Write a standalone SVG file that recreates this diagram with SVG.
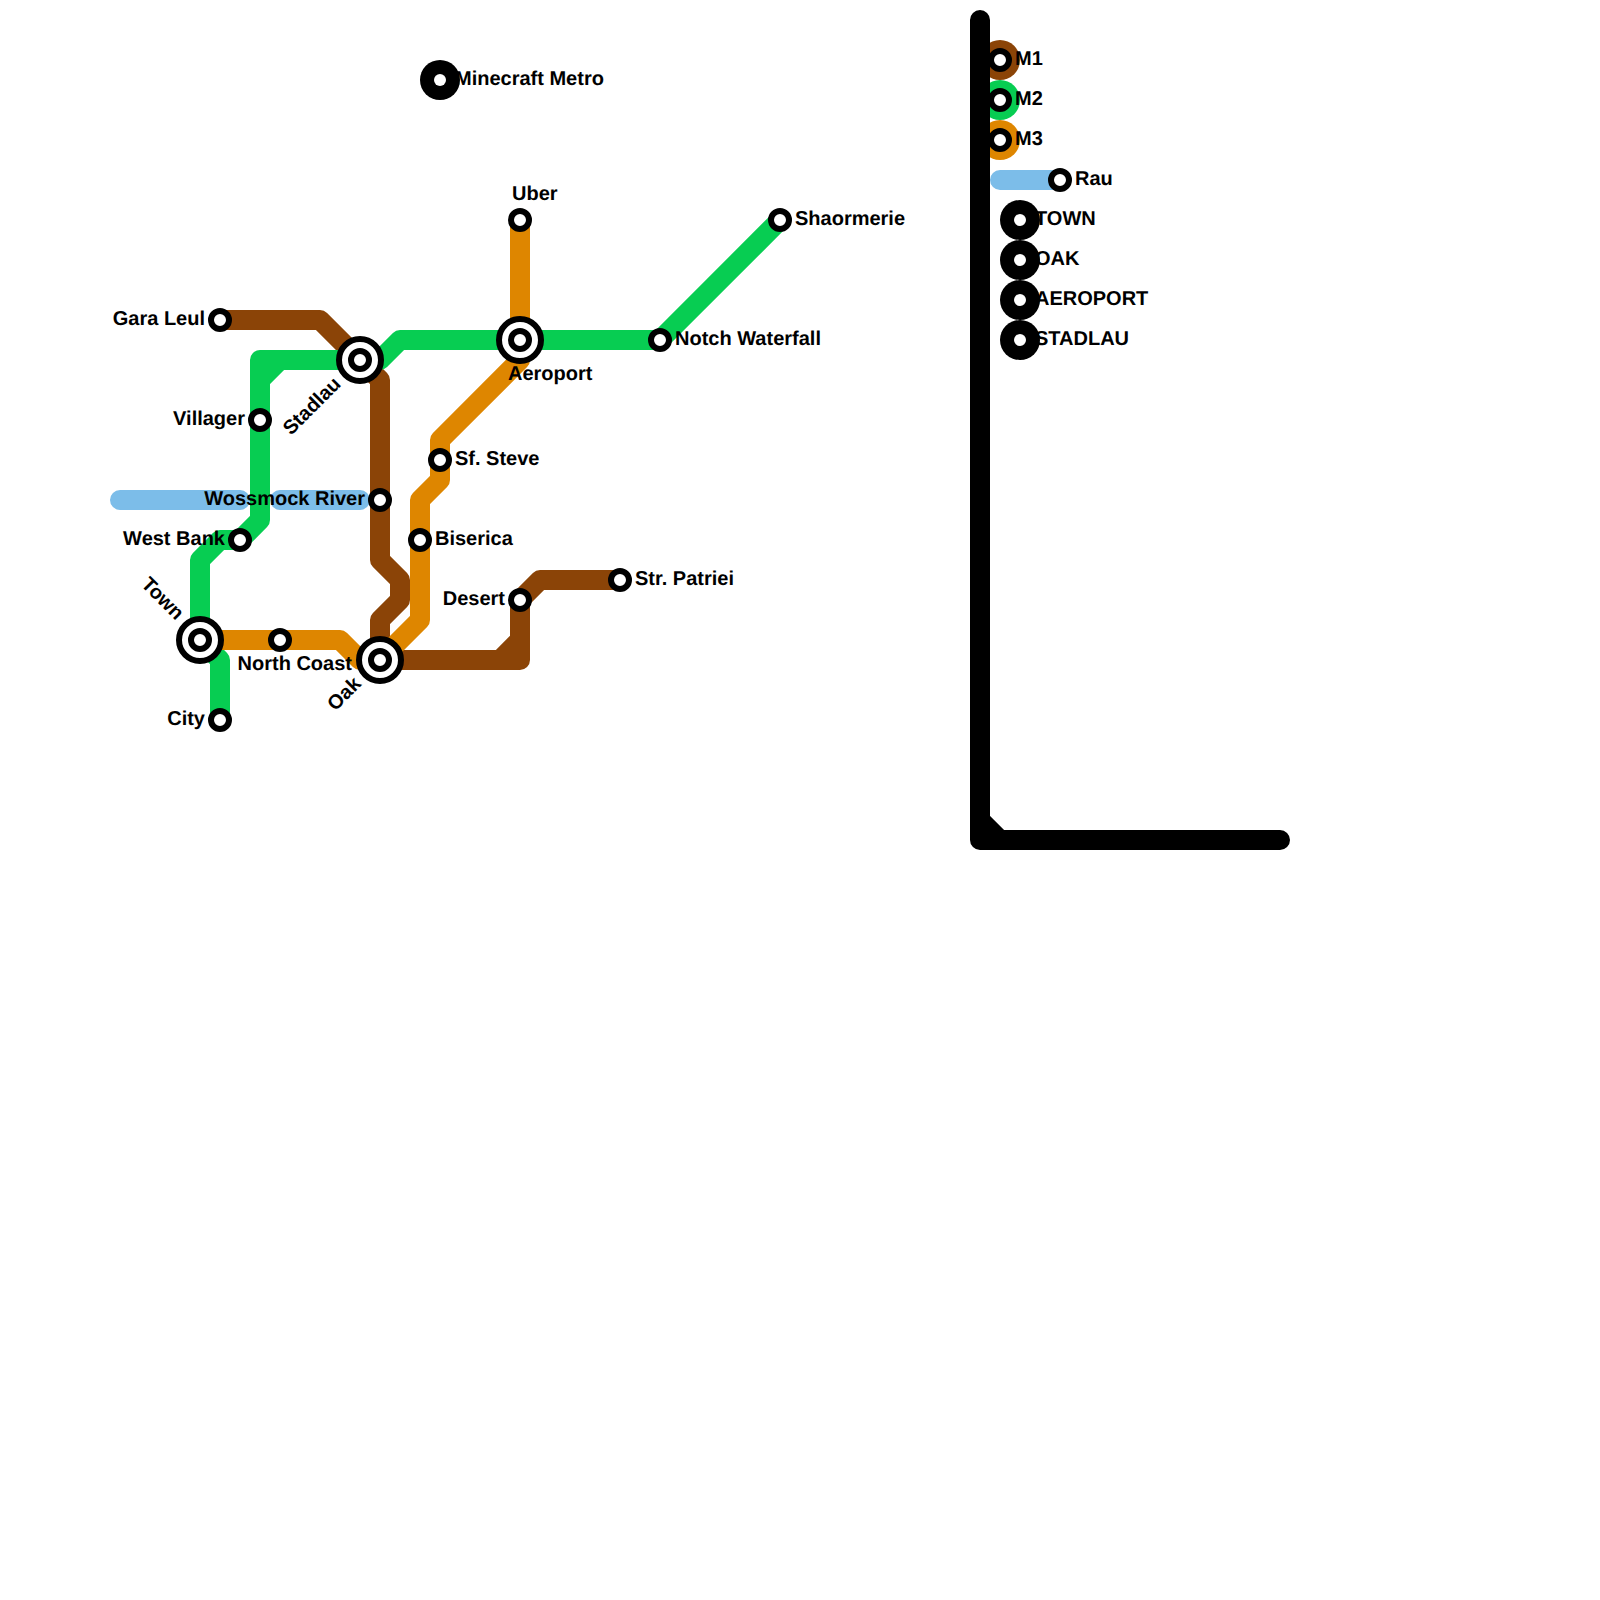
<svg xmlns="http://www.w3.org/2000/svg" width="1600" height="1600" viewBox="0 0 1600 1600">
<defs>
<style>
.l{fill:none;stroke-width:20;stroke-linecap:round;stroke-linejoin:round}
.brown{stroke:#8b4407}.green{stroke:#07cd52}.orange{stroke:#de8600}.blue{stroke:#7cbde9}.black{stroke:#000}
.s{fill:#fff;stroke:#000;stroke-width:6}
.r{fill:#fff;stroke:#000;stroke-width:6}
.k{fill:#000}.w{fill:#fff}
text{font-family:"Liberation Sans",Arial,sans-serif;font-weight:700;font-size:20px;fill:#000;text-rendering:geometricPrecision}
.e{text-anchor:end}
</style>
</defs>
<rect width="1600" height="1600" fill="#fff"/>
<g id="connectors">
<path class="l blue" d="M120 500H240M280 500H360M1000 180H1060"/>
<path class="l brown" d="M220 320H320L380 380V560L400 580V600L380 620V660H520V600L540 580H620M500 660L520 640"/>
<path class="l green" d="M780 220L660 340H400L380 360M360 360H260V520L240 540H220L200 560V640L220 660V720M260 380L280 360"/>
<path class="l orange" d="M520 220V360L440 440V480L420 500V620L380 660M200 640H340L360 660"/>
<circle cx="1000" cy="60" r="20" fill="#8b4407"/>
<circle cx="1000" cy="100" r="20" fill="#07cd52"/>
<circle cx="1000" cy="140" r="20" fill="#de8600"/>
<path class="l black" d="M980 20V840H1280M980 820L1000 840"/>
</g>
<g id="minecraft-metro"><circle class="k" cx="440" cy="80" r="20"/><circle class="w" cx="440" cy="80" r="6"/><text x="455" y="85">Minecraft Metro</text></g>
<g id="uber"><circle class="s" cx="520" cy="220" r="9"/><text x="512" y="200">Uber</text></g>
<g id="shaormerie"><circle class="s" cx="780" cy="220" r="9"/><text x="795" y="225">Shaormerie</text></g>
<g id="notch-waterfall"><circle class="s" cx="660" cy="340" r="9"/><text x="675" y="345">Notch Waterfall</text></g>
<g id="gara-leul"><circle class="s" cx="220" cy="320" r="9"/><text class="e" x="205" y="325">Gara Leul</text></g>
<g id="villager"><circle class="s" cx="260" cy="420" r="9"/><text class="e" x="245" y="425">Villager</text></g>
<g id="wossmock-river"><circle class="s" cx="380" cy="500" r="9"/><text class="e" x="365" y="505">Wossmock River</text></g>
<g id="west-bank"><circle class="s" cx="240" cy="540" r="9"/><text class="e" x="225" y="545">West Bank</text></g>
<g id="north-coast"><circle class="s" cx="280" cy="640" r="9"/><text class="e" x="352" y="670">North Coast</text></g>
<g id="city"><circle class="s" cx="220" cy="720" r="9"/><text class="e" x="205" y="725">City</text></g>
<g id="sf-steve"><circle class="s" cx="440" cy="460" r="9"/><text x="455" y="465">Sf. Steve</text></g>
<g id="biserica"><circle class="s" cx="420" cy="540" r="9"/><text x="435" y="545">Biserica</text></g>
<g id="desert"><circle class="s" cx="520" cy="600" r="9"/><text class="e" x="505" y="605">Desert</text></g>
<g id="str-patriei"><circle class="s" cx="620" cy="580" r="9"/><text x="635" y="585">Str. Patriei</text></g>
<g id="stadlau"><circle class="r" cx="360" cy="360" r="21"/><circle class="s" cx="360" cy="360" r="9"/><text class="e" transform="translate(342 385) rotate(-45)">Stadlau</text></g>
<g id="aeroport"><circle class="r" cx="520" cy="340" r="21"/><circle class="s" cx="520" cy="340" r="9"/><text x="508" y="380">Aeroport</text></g>
<g id="town"><circle class="r" cx="200" cy="640" r="21"/><circle class="s" cx="200" cy="640" r="9"/><text class="e" transform="translate(176 621) rotate(45)">Town</text></g>
<g id="oak"><circle class="r" cx="380" cy="660" r="21"/><circle class="s" cx="380" cy="660" r="9"/><text class="e" transform="translate(362 685) rotate(-45)">Oak</text></g>
<g id="legend-m1"><circle class="s" cx="1000" cy="60" r="9"/><text x="1015" y="65">M1</text></g>
<g id="legend-m2"><circle class="s" cx="1000" cy="100" r="9"/><text x="1015" y="105">M2</text></g>
<g id="legend-m3"><circle class="s" cx="1000" cy="140" r="9"/><text x="1015" y="145">M3</text></g>
<g id="legend-rau"><circle class="s" cx="1060" cy="180" r="9"/><text x="1075" y="185">Rau</text></g>
<g id="legend-town"><circle class="k" cx="1020" cy="220" r="20"/><circle class="w" cx="1020" cy="220" r="6"/><text x="1035" y="225">TOWN</text></g>
<g id="legend-oak"><circle class="k" cx="1020" cy="260" r="20"/><circle class="w" cx="1020" cy="260" r="6"/><text x="1035" y="265">OAK</text></g>
<g id="legend-aeroport"><circle class="k" cx="1020" cy="300" r="20"/><circle class="w" cx="1020" cy="300" r="6"/><text x="1035" y="305">AEROPORT</text></g>
<g id="legend-stadlau"><circle class="k" cx="1020" cy="340" r="20"/><circle class="w" cx="1020" cy="340" r="6"/><text x="1035" y="345">STADLAU</text></g>
</svg>
